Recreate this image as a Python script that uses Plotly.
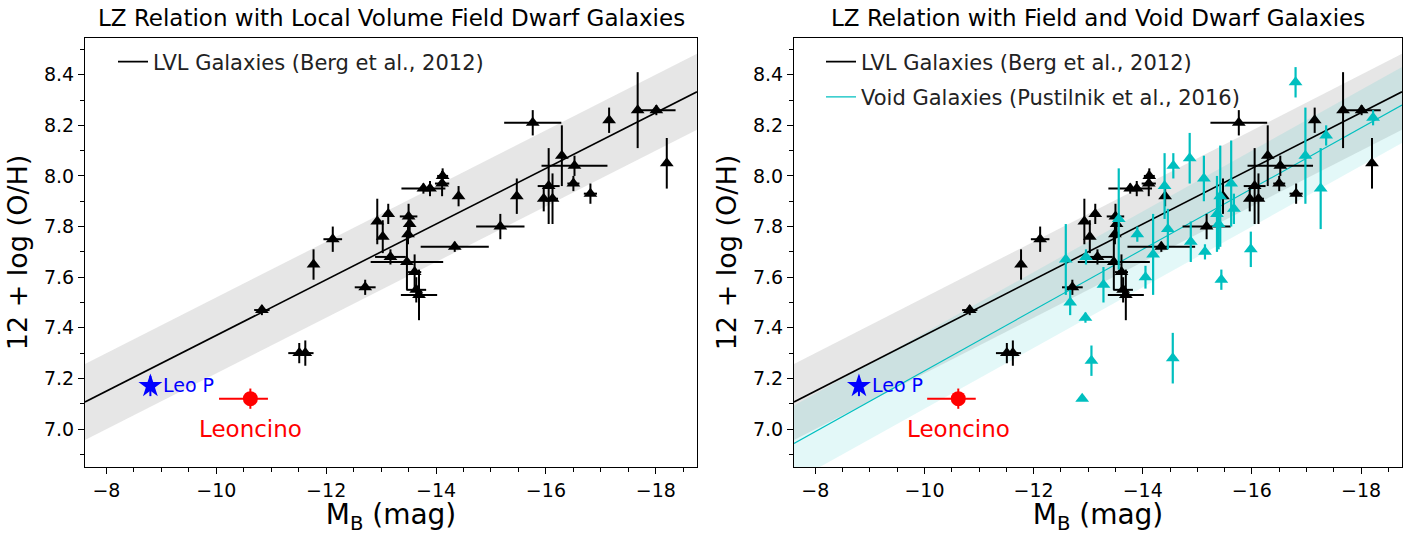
import numpy as np
import plotly.graph_objects as go

# ---------------- data ----------------
# LVL galaxies (Berg et al. 2012): M_B, 12+log(O/H), errors
lvl_mb = [-10.83, -11.51, -11.62, -11.77, -12.12, -12.71, -12.93, -13.03, -13.13, -13.17,
          -13.50, -13.52, -13.49, -13.47, -13.61, -13.64, -13.69, -13.77, -13.89, -14.12,
          -14.11, -14.41, -14.34, -15.17, -15.47, -15.76, -15.96, -16.05, -16.12, -16.29,
          -16.52, -16.50, -16.81, -17.15, -17.67, -18.01, -18.20]
lvl_oh = [7.47, 7.30, 7.30, 7.65, 7.75, 7.56, 7.82, 7.76, 7.85, 7.68,
          7.84, 7.81, 7.77, 7.66, 7.62, 7.55, 7.53, 7.95, 7.95, 8.00,
          7.97, 7.92, 7.72, 7.80, 7.92, 8.21, 7.91, 7.96, 7.91, 8.08,
          8.04, 7.97, 7.93, 8.22, 8.26, 8.26, 8.05]
lvl_mb_err = [0.14, 0.20, 0.15, 0.00, 0.17, 0.19, 0.05, 0.05, 0.07, 0.28,
              0.16, 0.05, 0.05, 0.66, 0.12, 0.18, 0.33, 0.40, 0.05, 0.10,
              0.13, 0.05, 0.62, 0.44, 0.00, 0.52, 0.05, 0.20, 0.10, 0.00,
              0.60, 0.11, 0.12, 0.05, 0.03, 0.35, 0.05]
lvl_oh_err = [0.02, 0.04, 0.05, 0.06, 0.05, 0.03, 0.09, 0.065, 0.04, 0.03,
              0.05, 0.04, 0.04, 0.11, 0.07, 0.05, 0.10, 0.02, 0.03, 0.03,
              0.05, 0.04, 0.02, 0.05, 0.07, 0.05, 0.05, 0.15, 0.10, 0.12,
              0.04, 0.03, 0.04, 0.05, 0.15, 0.02, 0.10]

# Void galaxies (Pustilnik et al. 2016)
void_mb = [-16.80, -18.22, -17.36, -16.98, -17.26, -15.98, -15.44, -15.62, -15.67, -15.42,
           -15.36, -15.39, -15.12, -14.86, -15.14, -14.88, -14.56, -14.40, -14.46, -14.19,
           -14.05, -13.90, -13.56, -13.28, -12.96, -12.59, -12.67, -12.95, -13.06, -12.89,
           -14.55]
void_oh = [8.37, 8.23, 8.16, 8.08, 7.95, 7.71, 7.59, 7.97, 7.87, 7.92,
           7.85, 7.81, 7.99, 8.07, 7.70, 7.74, 8.04, 7.96, 7.79, 7.69,
           7.60, 7.77, 7.83, 7.57, 7.68, 7.67, 7.50, 7.44, 7.27, 7.12,
           7.28]
void_oh_err = [0.06, 0.03, 0.04, 0.19, 0.16, 0.07, 0.04, 0.17, 0.06, 0.20,
               0.15, 0.10, 0.09, 0.10, 0.03, 0.08, 0.05, 0.13, 0.08, 0.16,
               0.045, 0.03, 0.20, 0.07, 0.03, 0.14, 0.05, 0.02, 0.06, 0.0,
               0.10]

# Leo P and Leoncino
leop_mb = [-8.80]
leop_oh = [7.17]
leop_oh_err = [0.04]
leon_mb = [-10.62]
leon_oh = [7.12]
leon_mb_err_plus = [0.57]
leon_mb_err_minus = [0.32]
leon_oh_err = [0.04]

# LZ relations: 12+log(O/H) = a + b*M_B, dispersion sig
berg_a, berg_b, berg_sig = 6.27, -0.11, 0.15
void_a, void_b, void_sig = 6.03, -0.12, 0.15

x_lim = [-7.61, -18.75]
y_lim = [6.85, 8.545]

titles = ["LZ Relation with Local Volume Field Dwarf Galaxies",
          "LZ Relation with Field and Void Dwarf Galaxies"]
label_berg = "LVL Galaxies (Berg et al., 2012)"
label_void = "Void Galaxies (Pustilnik et al., 2016)"

FONT = "DejaVu Sans"
CYAN = "#00BFBF"

fig = go.Figure()
xr = np.array(x_lim)


def band(a, b, sig, color, xa, ya):
    lo = a + b * xr - sig
    hi = a + b * xr + sig
    fig.add_trace(go.Scatter(x=[xr[0], xr[1], xr[1], xr[0], xr[0]],
                             y=[lo[0], lo[1], hi[1], hi[0], lo[0]],
                             fill="toself", fillcolor=color, mode="lines",
                             line=dict(width=0), hoverinfo="skip", showlegend=False,
                             xaxis=xa, yaxis=ya))


def fitline(a, b, color, width, xa, ya, name, legend, group):
    fig.add_trace(go.Scatter(x=xr, y=a + b * xr, mode="lines",
                             line=dict(color=color, width=width), name=name,
                             showlegend=True, legend=legend, legendgroup=group,
                             xaxis=xa, yaxis=ya))


def lvl_points(xa, ya):
    fig.add_trace(go.Scatter(x=lvl_mb, y=lvl_oh, mode="markers",
                             marker=dict(symbol="triangle-up", size=12, color="black"),
                             error_x=dict(type="data", array=lvl_mb_err, color="black",
                                          thickness=2, width=0),
                             error_y=dict(type="data", array=lvl_oh_err, color="black",
                                          thickness=2, width=0),
                             showlegend=False, xaxis=xa, yaxis=ya))


def special(xa, ya):
    fig.add_trace(go.Scatter(x=leop_mb, y=leop_oh, mode="markers",
                             marker=dict(symbol="star", size=18, color="blue",
                                         line=dict(width=0)),
                             error_y=dict(type="data", array=leop_oh_err, color="blue",
                                          thickness=2, width=0),
                             showlegend=False, xaxis=xa, yaxis=ya))
    fig.add_trace(go.Scatter(x=leon_mb, y=leon_oh, mode="markers",
                             marker=dict(symbol="circle", size=15, color="red"),
                             error_x=dict(type="data", symmetric=False,
                                          array=leon_mb_err_plus,
                                          arrayminus=leon_mb_err_minus,
                                          color="red", thickness=2, width=0),
                             error_y=dict(type="data", array=leon_oh_err, color="red",
                                          thickness=2, width=0),
                             showlegend=False, xaxis=xa, yaxis=ya))
    xref = "x" if xa == "x" else "x2"
    yref = "y" if ya == "y" else "y2"
    fig.add_annotation(x=leop_mb[0] - 0.2, y=leop_oh[0] + 0.005, xref=xref, yref=yref,
                       text="Leo P", showarrow=False, xanchor="left", yanchor="middle",
                       font=dict(family=FONT, size=19, color="blue"))
    fig.add_annotation(x=leon_mb[0], y=leon_oh[0] - 0.12, xref=xref, yref=yref,
                       text="Leoncino", showarrow=False, xanchor="center", yanchor="middle",
                       font=dict(family=FONT, size=23, color="red"))


# ---- left panel ----
band(berg_a, berg_b, berg_sig, "rgba(128,128,128,0.2)", "x", "y")
fitline(berg_a, berg_b, "black", 1.6, "x", "y", label_berg, "legend", "g1")
lvl_points("x", "y")
special("x", "y")

# ---- right panel ----
band(berg_a, berg_b, berg_sig, "rgba(128,128,128,0.2)", "x2", "y2")
band(void_a, void_b, void_sig, "rgba(0,191,191,0.11)", "x2", "y2")
fitline(berg_a, berg_b, "black", 1.6, "x2", "y2", label_berg, "legend2", "g1")
fitline(void_a, void_b, CYAN, 1.1, "x2", "y2", label_void, "legend2", "g2")
lvl_points("x2", "y2")
fig.add_trace(go.Scatter(x=void_mb, y=void_oh, mode="markers",
                         marker=dict(symbol="triangle-up", size=12, color=CYAN),
                         error_y=dict(type="data", array=void_oh_err, color=CYAN,
                                      thickness=2.2, width=0),
                         showlegend=False, xaxis="x2", yaxis="y2"))
special("x2", "y2")

# ---- axes ----
L, R, T, B = 85, 18, 38, 61
W, H = 1420, 535
pw = W - L - R
d1 = [0, (697 - L) / pw]
d2 = [(794 - L) / pw, 1.0]

axis_common = dict(showline=True, linecolor="black", linewidth=1.2, mirror=True,
                   ticks="outside", ticklen=6, tickwidth=1.2, tickcolor="black",
                   showgrid=False, zeroline=False,
                   tickfont=dict(family=FONT, size=19, color="black"))
minor_x = dict(ticks="outside", ticklen=3.5, tickwidth=1, tickcolor="black", dtick=0.5)
minor_y = dict(ticks="outside", ticklen=3.5, tickwidth=1, tickcolor="black", dtick=0.1)

xt = dict(text="M<sub>B</sub> (mag)", font=dict(family=FONT, size=28, color="black"),
          standoff=2)
yt = dict(text="12 + log (O/H)", font=dict(family=FONT, size=27, color="black"),
          standoff=8)

fig.update_layout(
    width=W, height=H, margin=dict(l=L, r=R, t=T, b=B),
    paper_bgcolor="white", plot_bgcolor="white",
    xaxis=dict(domain=d1, range=x_lim, anchor="y", dtick=2, tick0=-8,
               tickformat="d", title=xt, minor=minor_x, **axis_common),
    yaxis=dict(domain=[0, 1], range=y_lim, anchor="x", dtick=0.2, tick0=7.0,
               tickformat=".1f", title=yt, minor=minor_y, **axis_common),
    xaxis2=dict(domain=d2, range=x_lim, anchor="y2", dtick=2, tick0=-8,
                tickformat="d", title=xt, minor=minor_x, **axis_common),
    yaxis2=dict(domain=[0, 1], range=y_lim, anchor="x2", dtick=0.2, tick0=7.0,
                tickformat=".1f", title=yt, minor=minor_y, **axis_common),
    legend=dict(x=(113 - L) / pw, y=0.992, xanchor="left", yanchor="top",
                bgcolor="rgba(0,0,0,0)", font=dict(family=FONT, size=21, color="#222"),
                itemwidth=30),
    legend2=dict(x=(821 - L) / pw, y=0.992, xanchor="left", yanchor="top",
                 bgcolor="rgba(0,0,0,0)", font=dict(family=FONT, size=21, color="#222"),
                 itemwidth=30, traceorder="grouped", tracegroupgap=5),
    showlegend=True,
)

# titles
for t, d in zip(titles, [d1, d2]):
    fig.add_annotation(x=(d[0] + d[1]) / 2, y=1.0, xref="paper", yref="paper",
                       yshift=20, text=t, showarrow=False, xanchor="center",
                       yanchor="middle",
                       font=dict(family=FONT, size=23, color="black"))

fig.write_html("out.html")
